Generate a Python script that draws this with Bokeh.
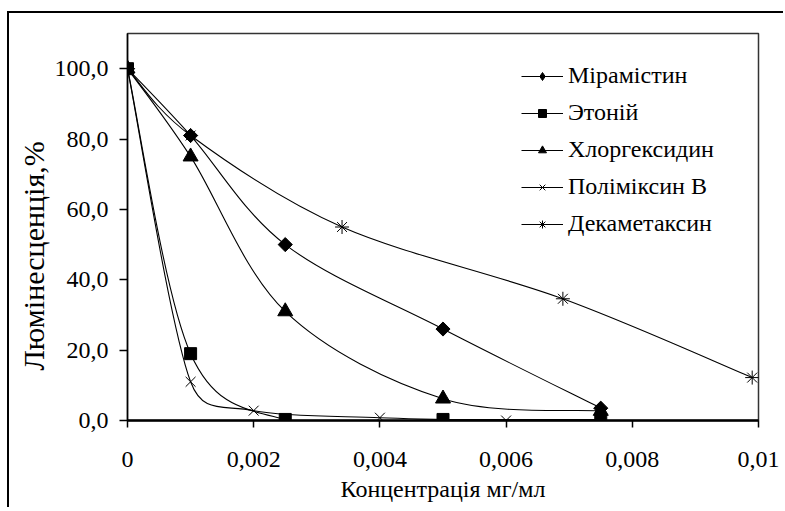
import math
from bokeh.plotting import figure
from bokeh.models import FixedTicker, Legend, LegendItem, Range1d, Title
from bokeh.embed import file_html
from bokeh.resources import INLINE

# ---- data ----
x_mir = [0, 0.001, 0.0025, 0.005, 0.0075]
y_mir = [100, 81, 50, 26, 3.5]
x_eto = [0, 0.001, 0.0025, 0.005, 0.0075]
y_eto = [100, 19, 0.3, 0.3, 0.3]
x_chl = [0, 0.001, 0.0025, 0.005, 0.0075]
y_chl = [100, 75, 31, 6.2, 2.7]
x_pol = [0, 0.001, 0.002, 0.004, 0.006]
y_pol = [100, 11, 2.8, 0.8, 0]
x_dek = [0, 0.001, 0.0034, 0.0069, 0.0099]
y_dek = [100, 81, 55, 34.6, 12.2]

names = ["Мірамістин", "Этоній", "Хлоргексидин", "Поліміксин В", "Декаметаксин"]
x_ticks = [0, 0.002, 0.004, 0.006, 0.008, 0.01]
x_tick_labels = ["0", "0,002", "0,004", "0,006", "0,008", "0,01"]
y_ticks = [0, 20, 40, 60, 80, 100]
y_tick_labels = ["0,0", "20,0", "40,0", "60,0", "80,0", "100,0"]

FONT = "Liberation Serif"

W, H = 776, 496
ML, MR, MT, MB = 118, 27, 20, 89
X0, X1, Y0, Y1 = 0, 0.01, 0, 110

p = figure(width=W, height=H, output_backend="svg", toolbar_location=None,
           x_range=Range1d(X0, X1), y_range=Range1d(Y0, Y1),
           min_border_left=ML, min_border_right=MR, min_border_top=MT,
           min_border_bottom=MB)
p.styles = {"margin-left": "7px", "margin-top": "11px",
            "border-left": "2px solid black", "border-top": "2px solid black"}
p.grid.visible = False
p.outline_line_color = "#333333"
p.outline_line_width = 1.5
p.background_fill_color = "white"
p.border_fill_color = "white"

SX = (W - ML - MR) / (X1 - X0)
SY = (H - MT - MB) / (Y1 - Y0)

def smooth(xs, ys):
    n = len(xs)
    P = [(x * SX, y * SY) for x, y in zip(xs, ys)]
    dist = lambda a, b: math.hypot(a[0] - b[0], a[1] - b[1])
    out = {k: [] for k in ("x0", "y0", "x1", "y1", "cx0", "cy0", "cx1", "cy1")}
    for i in range(n - 1):
        p0 = P[i - 1] if i > 0 else P[i]
        p1, p2 = P[i], P[i + 1]
        p3 = P[i + 2] if i + 2 < n else P[i + 1]
        d12 = dist(p1, p2)
        d02 = dist(p0, p2)
        d13 = dist(p1, p3)
        f1 = min(1 / 6, d12 / (2 * d02)) if d02 > 0 else 0
        f2 = min(1 / 6, d12 / (2 * d13)) if d13 > 0 else 0
        c1 = (p1[0] + (p2[0] - p0[0]) * f1, p1[1] + (p2[1] - p0[1]) * f1)
        c2 = (p2[0] - (p3[0] - p1[0]) * f2, p2[1] - (p3[1] - p1[1]) * f2)
        out["x0"].append(xs[i]); out["y0"].append(ys[i])
        out["x1"].append(xs[i + 1]); out["y1"].append(ys[i + 1])
        out["cx0"].append(c1[0] / SX); out["cy0"].append(c1[1] / SY)
        out["cx1"].append(c2[0] / SX); out["cy1"].append(c2[1] / SY)
    return out

series = {
    "Декаметаксин": (x_dek, y_dek, "asterisk", 14, 0),
    "Поліміксин В": (x_pol, y_pol, "x", 14, 0),
    "Хлоргексидин": (x_chl, y_chl, "triangle", 15, 0),
    "Мірамістин": (x_mir, y_mir, "square", 10, math.pi / 4),
    "Этоній": (x_eto, y_eto, "square", 12, 0),
}

items = {}
for nm, (xs, ys, mk, sz, ang) in series.items():
    b = p.bezier(line_color="black", line_width=1.1, **smooth(xs, ys))
    sc = p.scatter(xs, ys, marker=mk, size=sz, angle=ang, fill_color="black",
                   line_color="black", line_width=1)
    items[nm] = [b, sc]

dmd = p.scatter([-1], [-1], marker="diamond", size=14, fill_color="black", line_color="black")
items["Мірамістин"] = [items["Мірамістин"][0], dmd]

legend_items = [LegendItem(label=n, renderers=items[n]) for n in names]
legend = Legend(items=legend_items, location=(394, 178), padding=0, margin=0,
                spacing=0, glyph_width=42, glyph_height=20, label_height=37,
                label_standoff=5, border_line_color=None, background_fill_alpha=0,
                label_text_font=FONT, label_text_font_size="24px",
                label_text_color="black")
p.add_layout(legend, "center")

p.xaxis.ticker = FixedTicker(ticks=x_ticks)
p.xaxis.major_label_overrides = {t: l for t, l in zip(x_ticks, x_tick_labels)}
p.yaxis.ticker = FixedTicker(ticks=y_ticks)
p.yaxis.major_label_overrides = {t: l for t, l in zip(y_ticks, y_tick_labels)}
for ax in (p.xaxis, p.yaxis):
    ax.minor_tick_line_color = None
    ax.major_tick_in = 0
    ax.major_tick_line_color = "black"
    ax.major_tick_line_width = 1.5
    ax.axis_line_color = "black"
    ax.major_label_text_font = FONT
    ax.major_label_text_font_size = "24px"
    ax.major_label_text_color = "black"
    ax.axis_label_text_font = FONT
    ax.axis_label_text_font_size = "24px"
    ax.axis_label_text_font_style = "normal"
    ax.axis_label_text_color = "black"
p.xaxis.axis_line_width = 2.5
p.yaxis.axis_line_width = 1.5
p.xaxis.major_tick_out = 7
p.yaxis.major_tick_out = 8
p.xaxis.major_label_standoff = 24
p.yaxis.major_label_standoff = 11
p.xaxis.axis_label = "Концентрація мг/мл"
p.xaxis.axis_label_standoff = 6

ytitle = Title(text="Люмінесценція,%", align="left", offset=50,
               text_font=FONT, text_font_size="30px", text_font_style="normal",
               text_color="black", standoff=3)
p.add_layout(ytitle, "left")

open("out.html", "w").write(file_html(p, INLINE))
